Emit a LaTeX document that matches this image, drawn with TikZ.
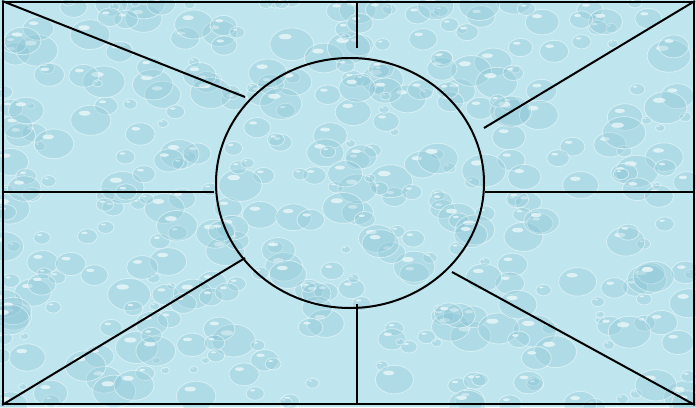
\documentclass[tikz,border=0pt]{standalone}
\usetikzlibrary{shapes.geometric}
\definecolor{waterbg}{HTML}{BFE6EE}
\definecolor{dropshade}{HTML}{86C2D3}
\definecolor{droplight}{HTML}{EEFAFC}

\begin{document}
\begin{tikzpicture}[
  x=0.75pt, y=-0.75pt,
  spoke/.style={draw=black, line width=1.5pt},
  hubshape/.style={draw=black, ellipse, line width=1.5pt, minimum width=201pt, minimum height=187.5pt, inner sep=0pt},
  framebox/.style={draw=black, rectangle, line width=1.5pt, minimum width=518pt, minimum height=301.5pt, inner sep=0pt}
]
% water drop background
\useasboundingbox (0,0) rectangle (696,407);
\fill[waterbg] (0,0) rectangle (696,407);
\begin{scope}
\clip (0,0) rectangle (696,407);
\pgfmathsetseed{11}
\foreach \i in {1,...,420}{
  \pgfmathsetmacro\dx{rnd*696}
  \pgfmathsetmacro\dy{rnd*407}
  \pgfmathsetmacro\dr{4+rnd*18}
  \fill[dropshade, opacity=0.28] (\dx,\dy) ellipse [x radius=\dr, y radius=0.75*\dr];
  \draw[droplight, opacity=0.6, line width=0.6pt] (\dx,\dy) ellipse [x radius=\dr, y radius=0.75*\dr];
  \fill[droplight, opacity=0.75] (\dx-0.3*\dr,\dy-0.35*\dr) ellipse [x radius=0.3*\dr, y radius=0.12*\dr];
}
\end{scope}

% frame and centre
\node[framebox] (frame) at (348.5,203) {};
\node[hubshape] (hub) at (350,183) {};

% free ends of the spokes
\coordinate (tlend) at (245,97);
\coordinate (topend) at (357,48);
\coordinate (trend) at (484,128);
\coordinate (lend) at (214,192);
\coordinate (rend) at (485,192);
\coordinate (blend) at (245,258);
\coordinate (botend) at (357,304);
\coordinate (brend) at (452,272);

% spokes
\draw[spoke] (frame.north west) -- (tlend);
\draw[spoke] (frame.north -| topend) -- (topend);
\draw[spoke] (frame.north east) -- (trend);
\draw[spoke] (frame.west |- lend) -- (lend);
\draw[spoke] (rend) -- (frame.east |- rend);
\draw[spoke] (frame.south west) -- (blend);
\draw[spoke] (botend) -- (frame.south -| botend);
\draw[spoke] (brend) -- (frame.south east);
\end{tikzpicture}
\end{document}
